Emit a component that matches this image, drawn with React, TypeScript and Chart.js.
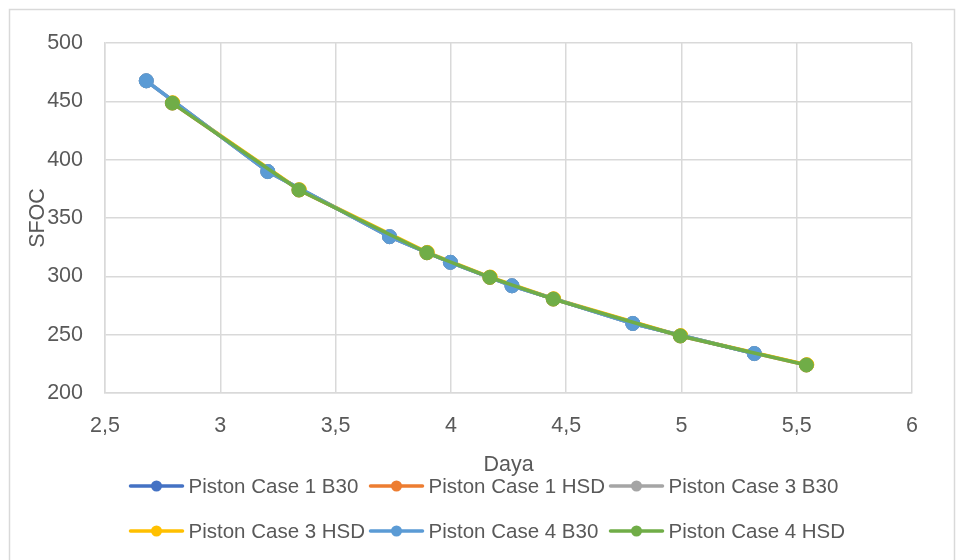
import { useEffect, useRef } from 'react';
import { Chart, registerables } from 'chart.js';

Chart.register(...registerables);

// Series labels and Office palette colours
const seriesNames = [
  'Piston Case 1 B30',
  'Piston Case 1 HSD',
  'Piston Case 3 B30',
  'Piston Case 3 HSD',
  'Piston Case 4 B30',
  'Piston Case 4 HSD',
];
const seriesColors = ['#4472C4', '#ED7D31', '#A5A5A5', '#FFC000', '#5B9BD5', '#70AD47'];

// Daya (x) and SFOC (y) per series
const case1B30Daya = [2.679, 3.206, 3.734, 3.998, 4.265, 4.789, 5.316];
const case1B30Sfoc = [467.6, 389.8, 334.0, 312.0, 291.9, 259.6, 233.8];
const case1HsdDaya = [2.792, 3.341, 3.896, 4.169, 4.444, 4.995, 5.542];
const case1HsdSfoc = [448.5, 374.0, 320.2, 299.1, 280.5, 248.9, 224.0];
const case3B30Daya = [2.679, 3.206, 3.734, 3.998, 4.265, 4.789, 5.316];
const case3B30Sfoc = [467.6, 389.8, 334.0, 312.0, 291.9, 259.6, 233.8];
const case3HsdDaya = [2.794, 3.343, 3.898, 4.171, 4.446, 4.997, 5.544];
const case3HsdSfoc = [448.8, 374.3, 320.5, 299.4, 280.8, 249.2, 224.3];
const case4B30Daya = [2.679, 3.206, 3.734, 3.998, 4.265, 4.789, 5.316];
const case4B30Sfoc = [467.6, 389.8, 334.0, 312.0, 291.9, 259.6, 233.8];
const case4HsdDaya = [2.792, 3.341, 3.896, 4.169, 4.444, 4.995, 5.542];
const case4HsdSfoc = [448.5, 374.0, 320.2, 299.1, 280.5, 248.9, 224.0];

const seriesDaya = [case1B30Daya, case1HsdDaya, case3B30Daya, case3HsdDaya, case4B30Daya, case4HsdDaya];
const seriesSfoc = [case1B30Sfoc, case1HsdSfoc, case3B30Sfoc, case3HsdSfoc, case4B30Sfoc, case4HsdSfoc];

// Axis ranges
const xMin = 2.5;
const xMax = 6;
const xStep = 0.5;
const yMin = 200;
const yMax = 500;
const yStep = 50;

const xTitle = 'Daya';
const yTitle = 'SFOC';

const FONT = "'Liberation Sans', Arial, sans-serif";
const TEXT = '#595959';
const GRID = '#d9d9d9';

// Light frame around the whole chart
const chartFrame = {
  id: 'chartFrame',
  beforeDraw(chart: any) {
    const { ctx, width, height } = chart;
    ctx.save();
    ctx.fillStyle = '#ffffff';
    ctx.fillRect(0, 0, width, height);
    ctx.strokeStyle = GRID;
    ctx.lineWidth = 1.5;
    ctx.strokeRect(9.5, 9.5, width - 14, height + 20);
    ctx.restore();
  },
};

// Legend in a 3-column grid with line + marker swatches
const lineLegend = {
  id: 'lineLegend',
  afterDraw(chart: any) {
    const { ctx } = chart;
    const datasets = chart.data.datasets;
    const cols = 3;
    const colWidth = 240;
    const left = 130.5;
    const rowY = [486, 531];
    const swatch = 52;
    ctx.save();
    ctx.font = `20.5px ${FONT}`;
    ctx.textBaseline = 'middle';
    ctx.textAlign = 'left';
    datasets.forEach((ds: any, i: number) => {
      const col = i % cols;
      const row = Math.floor(i / cols);
      const x = left + col * colWidth;
      const y = rowY[row];
      ctx.strokeStyle = ds.borderColor;
      ctx.lineWidth = 3.5;
      ctx.lineCap = 'round';
      ctx.beginPath();
      ctx.moveTo(x, y);
      ctx.lineTo(x + swatch, y);
      ctx.stroke();
      ctx.fillStyle = ds.pointBackgroundColor;
      ctx.beginPath();
      ctx.arc(x + swatch / 2, y, 5.5, 0, Math.PI * 2);
      ctx.fill();
      ctx.fillStyle = TEXT;
      ctx.fillText(ds.label, x + swatch + 6, y + 1);
    });
    ctx.restore();
  },
};

export default function App() {
  const canvasRef = useRef<HTMLCanvasElement | null>(null);

  useEffect(() => {
    const canvas = canvasRef.current;
    if (!canvas) return;

    const datasets = seriesNames.map((name, i) => ({
      label: name,
      data: seriesDaya[i].map((x, j) => ({ x, y: seriesSfoc[i][j] })),
      showLine: true,
      borderColor: seriesColors[i],
      backgroundColor: seriesColors[i],
      pointBackgroundColor: seriesColors[i],
      pointBorderColor: seriesColors[i],
      borderWidth: 3.5,
      pointRadius: 7,
      pointBorderWidth: 1,
      pointHoverRadius: 7,
      tension: 0,
      order: seriesNames.length - 1 - i,
    }));

    const chart = new Chart(canvas, {
      type: 'scatter',
      data: { datasets },
      plugins: [chartFrame, lineLegend],
      options: {
        animation: false,
        responsive: false,
        devicePixelRatio: 1,
        events: [],
        layout: { padding: { left: 0, right: 47, top: 43, bottom: 82 } },
        plugins: {
          legend: { display: false },
          tooltip: { enabled: false },
        },
        scales: {
          x: {
            type: 'linear',
            min: xMin,
            max: xMax,
            afterFit(scale: any) {
              scale.height = 85;
            },
            ticks: {
              stepSize: xStep,
              color: TEXT,
              font: { family: FONT, size: 21.5 },
              padding: 20.5,
              maxRotation: 0,
              callback: (v: any) => String(v).replace('.', ','),
            },
            grid: { color: GRID, lineWidth: 1.5, drawTicks: false },
            border: { color: GRID, width: 1.5 },
            title: {
              display: true,
              text: xTitle,
              color: TEXT,
              font: { family: FONT, size: 21.5 },
              padding: { top: 0, bottom: 0 },
            },
          },
          y: {
            type: 'linear',
            min: yMin,
            max: yMax,
            afterFit(scale: any) {
              scale.width = 105;
            },
            ticks: {
              stepSize: yStep,
              color: TEXT,
              font: { family: FONT, size: 21.5 },
              padding: 22,
            },
            grid: { color: GRID, lineWidth: 1.5, drawTicks: false },
            border: { color: GRID, width: 1.5 },
            title: {
              display: true,
              text: yTitle,
              color: TEXT,
              font: { family: FONT, size: 21.5 },
              padding: { top: 25, bottom: 0 },
            },
          },
        },
      },
    });

    return () => chart.destroy();
  }, []);

  return (
    <div
      style={{
        position: 'fixed',
        left: 0,
        top: 0,
        width: 959,
        height: 560,
        background: '#ffffff',
        overflow: 'hidden',
      }}
    >
      <canvas ref={canvasRef} width={959} height={560} style={{ display: 'block' }} />
    </div>
  );
}
